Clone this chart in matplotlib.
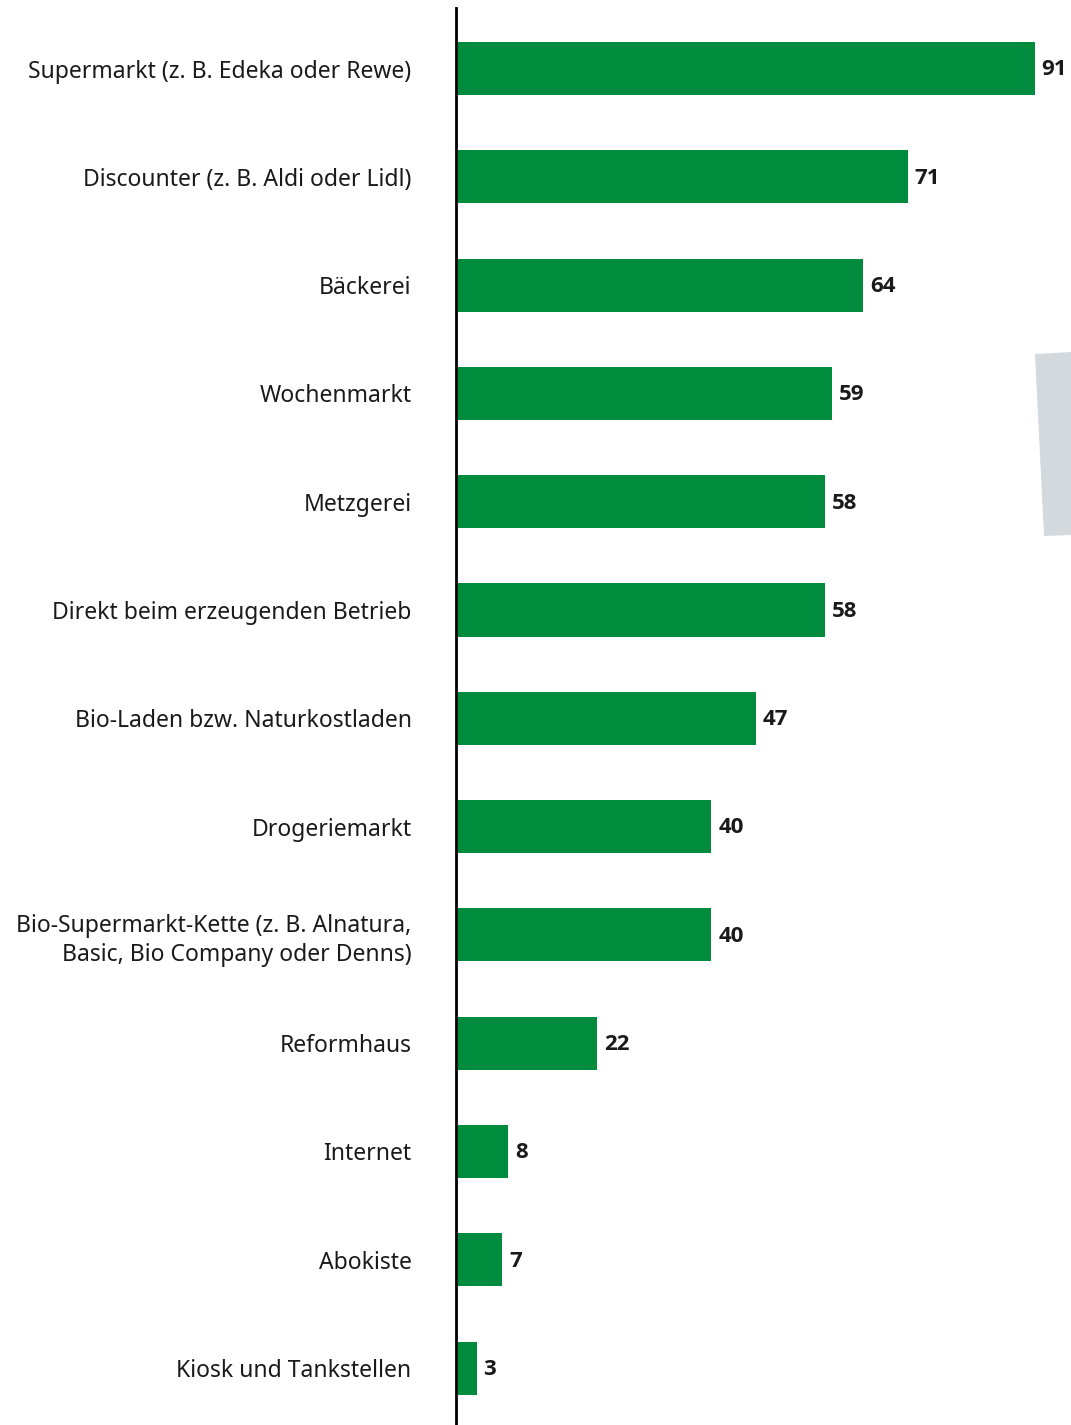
import matplotlib
matplotlib.use("Agg")
import matplotlib.pyplot as plt
import matplotlib.transforms as mtransforms
from matplotlib.patches import Polygon

# Einkaufsorte für Lebensmittel, Anteil in Prozent
labels = [
    "Supermarkt (z. B. Edeka oder Rewe)",
    "Discounter (z. B. Aldi oder Lidl)",
    "Bäckerei",
    "Wochenmarkt",
    "Metzgerei",
    "Direkt beim erzeugenden Betrieb",
    "Bio-Laden bzw. Naturkostladen",
    "Drogeriemarkt",
    "Bio-Supermarkt-Kette (z. B. Alnatura,\nBasic, Bio Company oder Denns)",
    "Reformhaus",
    "Internet",
    "Abokiste",
    "Kiosk und Tankstellen",
]
values = [91, 71, 64, 59, 58, 58, 47, 40, 40, 22, 8, 7, 3]

GREEN = "#008C3C"
TEXT = "#1a1a1a"

plt.rcParams["font.family"] = ["Noto Sans", "DejaVu Sans"]

W, H = 1071, 1425
fig = plt.figure(figsize=(W / 100, H / 100), dpi=100)

# decorative grey shape at the right edge
fig.patches.append(Polygon(
    [(1035 / W, 1 - 354 / H), (1.0, 1 - 352 / H), (1.0, 1 - 535 / H), (1044 / W, 1 - 536 / H)],
    closed=True, transform=fig.transFigure, facecolor="#d3d9dc", edgecolor="none", zorder=0))

ax = fig.add_axes([456 / W, 0, 1 - 456 / W, 1 - 8 / H])
ax.patch.set_alpha(0)

ys = list(range(len(values)))
ax.barh(ys, values, height=0.49, color=GREEN, left=0.25)
for y, v in zip(ys, values):
    ax.annotate(str(v), (v + 0.25, y), xytext=(5, -1), textcoords="offset points",
                ha="left", va="center", fontsize=16, fontweight="bold", color=TEXT,
                family=["Open Sans", "DejaVu Sans"])

ax.set_xlim(0, 97.0)
ax.set_ylim(12.526, -0.559)
ax.set_yticks(ys)
ax.set_yticklabels(labels, fontsize=16.5, color=TEXT, linespacing=1.3)
shift = mtransforms.ScaledTranslation(0, -2.5 / 72, fig.dpi_scale_trans)
for t in ax.get_yticklabels():
    t.set_transform(t.get_transform() + shift)
ax.tick_params(axis="y", length=0, pad=32)
ax.set_xticks([])
for s in ["top", "right", "bottom"]:
    ax.spines[s].set_visible(False)
ax.spines["left"].set_linewidth(2)
ax.spines["left"].set_color("black")

fig.savefig("out.png", dpi=100)
